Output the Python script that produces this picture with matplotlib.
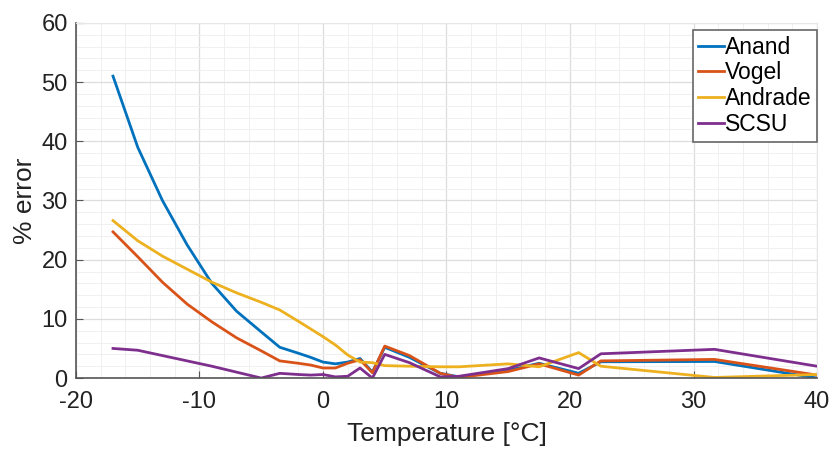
import matplotlib.pyplot as plt
from matplotlib.ticker import MultipleLocator

plt.rcParams['font.family'] = ['Liberation Sans', 'DejaVu Sans']
plt.rcParams['axes.unicode_minus'] = False

# Temperature points [°C]
temp = [-17, -15, -13, -11, -9, -7, -5, -3.5, -2, -1, 0, 1, 2, 3, 4, 5, 7,
        9.5, 11, 15, 17.5, 20.7, 22.5, 31.7, 40]

anand = [51, 39, 30, 22.5, 16, 11.3, 7.8, 5.2, 4.2, 3.5, 2.7, 2.4, 2.7, 3.3,
         1.0, 5.2, 3.5, 0.8, 0.2, 1.3, 2.5, 0.8, 2.75, 2.8, 0.0]
vogel = [24.7, 20.5, 16.2, 12.5, 9.5, 6.8, 4.6, 2.9, 2.5, 2.2, 1.7, 1.7, 2.5,
         3.1, 0.9, 5.4, 3.8, 0.8, 0.1, 1.1, 2.4, 0.5, 2.9, 3.15, 0.5]
andrade = [26.6, 23.2, 20.6, 18.4, 16.2, 14.4, 12.8, 11.5, 9.6, 8.3, 7.0, 5.6,
           3.9, 2.7, 2.6, 2.1, 2.0, 1.9, 1.9, 2.4, 1.9, 4.3, 2.0, 0.1, 0.6]
scsu = [5.0, 4.7, 3.8, 2.9, 2.0, 1.0, 0.0, 0.8, 0.6, 0.5, 0.6, 0.2, 0.3, 1.7,
        0.0, 4.0, 2.6, 0.2, 0.3, 1.6, 3.4, 1.6, 4.1, 4.85, 2.0]

series = [('Anand', anand, '#0072BD'), ('Vogel', vogel, '#D95319'),
          ('Andrade', andrade, '#EDB120'), ('SCSU', scsu, '#7E2F8E')]

fig = plt.figure(figsize=(8.32, 4.49), dpi=100)
ax = fig.add_axes([0.0913, 0.158, 0.8907, 0.791])

for name, vals, col in series:
    ax.plot(temp, vals, color=col, lw=2.0, label=name)

ax.set_xlim(-20, 40)
ax.set_ylim(0, 60)
ax.xaxis.set_major_locator(MultipleLocator(10))
ax.yaxis.set_major_locator(MultipleLocator(10))
ax.xaxis.set_minor_locator(MultipleLocator(2))
ax.yaxis.set_minor_locator(MultipleLocator(2))
ax.grid(True, which='major', color='#dddddd', lw=0.9)
ax.grid(True, which='minor', color='#f0f0f0', lw=0.7)
ax.set_axisbelow(True)

for s in ['top', 'right']:
    ax.spines[s].set_color('#e6e6e6')
for s in ['left', 'bottom']:
    ax.spines[s].set_color('#555555')
    ax.spines[s].set_linewidth(1.2)

ax.tick_params(which='major', direction='in', length=5, labelsize=17,
               colors='#555555', labelcolor='#222222', top=False, right=False)
ax.tick_params(axis='x', which='major', pad=9)
ax.tick_params(axis='y', which='major', pad=6)
ax.tick_params(which='minor', length=0)

ax.set_xlabel('Temperature [°C]', fontsize=19, color='#222222', labelpad=7)
ax.set_ylabel('% error', fontsize=19, color='#222222', labelpad=3)

leg = ax.legend(loc='upper right', fontsize=16.5, handlelength=1.1,
                handletextpad=0.05, borderpad=0.25, labelspacing=0.12,
                borderaxespad=0, fancybox=False, framealpha=1,
                edgecolor='#666666', bbox_to_anchor=(1.0, 0.98))
leg.get_frame().set_linewidth(1.2)

plt.savefig('out.png', dpi=100)
